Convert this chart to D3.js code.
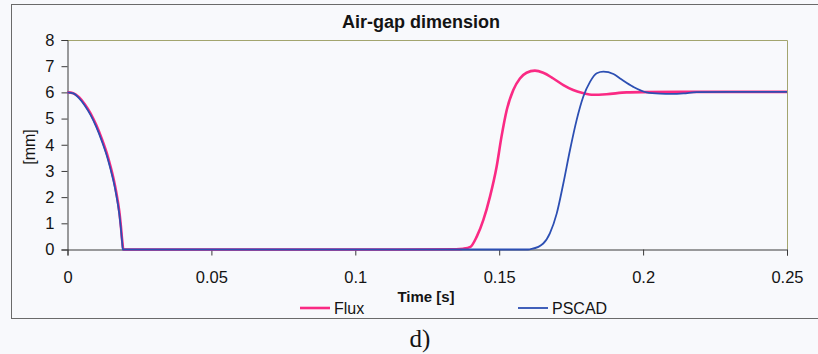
<!DOCTYPE html>
<html>
<head>
<meta charset="utf-8">
<script src="https://cdn.jsdelivr.net/npm/d3@7"></script>
<style>
  html, body { margin: 0; padding: 0; background: #f8f9fc; }
  svg { display: block; }
  text { font-family: "Liberation Sans", Arial, sans-serif; fill: #141414; }
</style>
</head>
<body>
<svg id="chart" width="818" height="354"></svg>
<script>
// Air-gap dimension over time, two simulation tools
const fluxTime = [0, 0.002, 0.004, 0.006, 0.008, 0.010, 0.012, 0.014, 0.015, 0.016, 0.017, 0.018, 0.0185, 0.019, 0.0194,
  0.05, 0.10, 0.135, 0.1375, 0.140, 0.1422, 0.1445, 0.1468, 0.1491, 0.1508, 0.1526, 0.1549, 0.1572, 0.1595, 0.1624,
  0.1653, 0.1688, 0.1723, 0.1757, 0.1790, 0.1827, 0.1873, 0.1943, 0.2, 0.22, 0.25];
const fluxGap = [6.0, 5.97, 5.82, 5.55, 5.2, 4.75, 4.2, 3.55, 3.15, 2.7, 2.15, 1.45, 0.95, 0.35, 0,
  0, 0, 0.01, 0.03, 0.1, 0.49, 1.13, 2.02, 3.16, 4.31, 5.32, 6.09, 6.53, 6.75, 6.83,
  6.75, 6.53, 6.28, 6.09, 5.98, 5.91, 5.93, 6.0, 6.01, 6.02, 6.02];

const pscadTime = [0, 0.002, 0.004, 0.006, 0.008, 0.010, 0.012, 0.014, 0.015, 0.016, 0.017, 0.018, 0.0185, 0.019, 0.0192,
  0.05, 0.10, 0.15, 0.16, 0.1613, 0.1653, 0.1676, 0.1700, 0.1723, 0.1746, 0.1769, 0.1792, 0.1816, 0.1839, 0.1862,
  0.1897, 0.1920, 0.1966, 0.2012, 0.2059, 0.2100, 0.2140, 0.2186, 0.23, 0.25];
const pscadGap = [6.0, 5.96, 5.78, 5.5, 5.14, 4.68, 4.12, 3.46, 3.05, 2.6, 2.05, 1.35, 0.85, 0.25, 0,
  0, 0, 0, 0, 0.02, 0.23, 0.62, 1.38, 2.53, 3.8, 4.94, 5.83, 6.41, 6.73, 6.79,
  6.7, 6.53, 6.21, 6.0, 5.95, 5.94, 5.96, 6.01, 6.02, 6.02];

const xTicks = [0, 0.05, 0.1, 0.15, 0.2, 0.25];
const yTicks = [0, 1, 2, 3, 4, 5, 6, 7, 8];
const seriesNames = ["Flux", "PSCAD"];
const seriesColors = ["#fa2a84", "#2c4fb3"];

const svg = d3.select("#chart");
const W = 818, H = 354;
const plot = { left: 67.5, right: 787, top: 40, bottom: 249.5 };

const x = d3.scaleLinear().domain([0, 0.25]).range([plot.left, plot.right]);
const y = d3.scaleLinear().domain([0, 8]).range([plot.bottom, plot.top]);

// outer chart frame (right side runs past the page edge)
const frame = svg.append("g").attr("fill", "none").attr("stroke", "#6a6a6a").attr("stroke-width", 1);
frame.append("line").attr("x1", 11).attr("x2", W).attr("y1", 4.5).attr("y2", 4.5);
frame.append("line").attr("x1", 11).attr("x2", W).attr("y1", 318.5).attr("y2", 318.5);
frame.append("line").attr("x1", 11.5).attr("x2", 11.5).attr("y1", 4.5).attr("y2", 318.5);

// plot area top/right border
svg.append("path")
  .attr("d", `M${plot.left},${plot.top + 0.5}H${plot.right + 0.5}V${plot.bottom}`)
  .attr("fill", "none").attr("stroke", "#a3a56f").attr("stroke-width", 1);

// axes
const yAxis = d3.axisLeft(y).tickValues(yTicks).tickFormat(d3.format("d")).tickSize(6).tickPadding(7);
const xAxis = d3.axisBottom(x).tickValues(xTicks).tickFormat(d => d === 0 ? "0" : String(d)).tickSize(6).tickPadding(16);

const gy = svg.append("g").attr("transform", `translate(${plot.left},0)`).call(yAxis);
const gx = svg.append("g").attr("transform", `translate(0,${plot.bottom})`).call(xAxis);
[gx, gy].forEach(g => {
  g.select(".domain").attr("stroke", "#3a3a3a");
  g.selectAll(".tick line").attr("stroke", "#3a3a3a");
  g.selectAll(".tick text").attr("font-size", 16.5).attr("fill", "#141414")
    .attr("font-family", "'Liberation Sans', Arial, sans-serif");
});

// series lines
const line = d3.line().x(d => x(d[0])).y(d => y(d[1])).curve(d3.curveMonotoneX);
const fluxData = fluxTime.map((t, i) => [t, fluxGap[i]]);
const pscadData = pscadTime.map((t, i) => [t, pscadGap[i]]);

svg.append("path").datum(fluxData).attr("d", line)
  .attr("fill", "none").attr("stroke", seriesColors[0]).attr("stroke-width", 2.6).attr("stroke-linejoin", "round");
svg.append("path").datum(pscadData).attr("d", line)
  .attr("fill", "none").attr("stroke", seriesColors[1]).attr("stroke-width", 1.8).attr("stroke-linejoin", "round");

// titles
svg.append("text").attr("x", 421).attr("y", 28).attr("text-anchor", "middle")
  .attr("font-size", 18).attr("font-weight", "bold").text("Air-gap dimension");
svg.append("text").attr("x", 426).attr("y", 302).attr("text-anchor", "middle")
  .attr("font-size", 15).attr("font-weight", "bold").text("Time [s]");
svg.append("text").attr("transform", "translate(35,147) rotate(-90)").attr("text-anchor", "middle")
  .attr("font-size", 16).text("[mm]");

// legend
const legendX = [300, 518];
seriesNames.forEach((name, i) => {
  const g = svg.append("g").attr("transform", `translate(${legendX[i]},308)`);
  g.append("line").attr("x1", 0).attr("x2", 30).attr("y1", 0).attr("y2", 0)
    .attr("stroke", seriesColors[i]).attr("stroke-width", i === 0 ? 2.6 : 1.8);
  g.append("text").attr("x", 34).attr("y", 6).attr("font-size", 16).text(name);
});

// panel label
svg.append("text").attr("x", 420).attr("y", 347).attr("text-anchor", "middle")
  .attr("font-size", 25).style("font-family", "'Liberation Serif', 'Times New Roman', serif").text("d)");
</script>
</body>
</html>
